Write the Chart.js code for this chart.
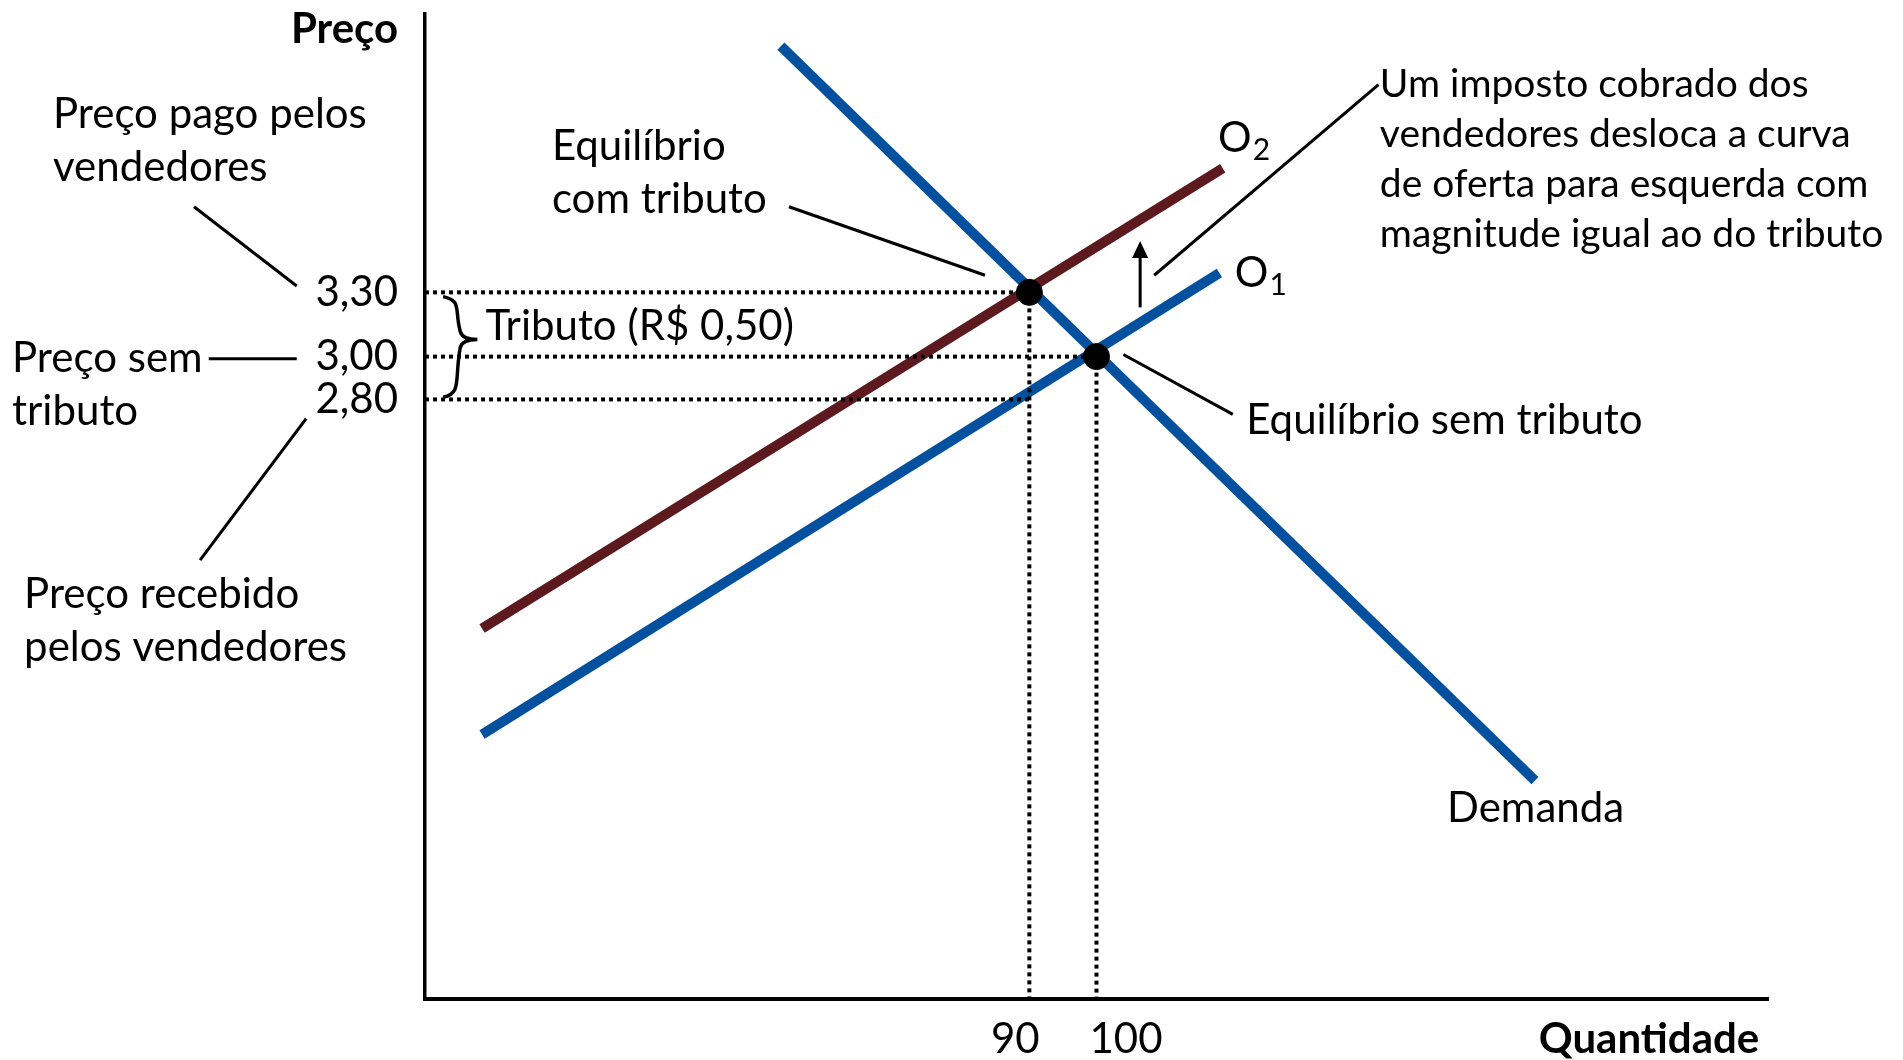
<!DOCTYPE html>
<html>
<head>
<meta charset="utf-8">
<script src="https://cdn.jsdelivr.net/npm/chart.js@4.4.1/dist/chart.umd.min.js"></script>
<style>
    html, body { margin: 0; padding: 0; background: #fff; }
    canvas { display: block; }
</style>
</head>
<body>
<canvas id="taxChart" width="1903" height="1060"></canvas>
<script>
// curvas (quantidade, preço)
const demandQty = [53, 165.3];
const demandPrice = [4.45, 1.02];
const supply1Qty = [8.5, 118.3];
const supply1Price = [1.235, 3.39];
const supply2Qty = [8.5, 118.8];
const supply2Price = [1.73, 3.88];

// equilíbrios: com tributo, sem tributo
const eqQty = [90, 100];
const eqPrice = [3.30, 3.00];
const receivedPrice = 2.80;

// rótulos dos eixos
const priceTicks = [2.80, 3.00, 3.30];
const qtyTicks = [90, 100];

const FONT = 'Lato, "Open Sans", sans-serif';
const BLUE = '#02509e';
const RED = '#5c1a1f';

function pts(xs, ys) {
    return xs.map((x, i) => ({ x: x, y: ys[i] }));
}

function dotted(data) {
    return {
        data: data,
        borderColor: '#000',
        borderWidth: 4,
        borderDash: [4, 4],
        pointRadius: 0,
        showLine: true,
        fill: false
    };
}

// textos e linhas de chamada (em coordenadas do gráfico)
const notes = [
    { lines: ['Preço pago pelos', 'vendedores'], x: -55.4, y: 4.13 },
    { lines: ['Preço sem', 'tributo'], x: -61.5, y: 2.99 },
    { lines: ['Preço recebido', 'pelos vendedores'], x: -59.7, y: 1.89 },
    { lines: ['Equilíbrio', 'com tributo'], x: 18.9, y: 3.98 },
    { lines: ['Tributo (R$ 0,50)'], x: 9.0, y: 3.14 },
    { lines: ['Um imposto cobrado dos', 'vendedores desloca a curva', 'de oferta para esquerda com', 'magnitude igual ao do tributo'], x: 142.2, y: 4.27, size: 39, gap: 50 },
    { lines: ['Equilíbrio sem tributo'], x: 122.3, y: 2.70 },
    { lines: ['Demanda'], x: 152.2, y: 0.89 },
    { lines: ['Preço'], x: -4.0, y: 4.53, align: 'right', bold: true },
    { lines: ['Quantidade'], x: 198.7, y: -0.19, align: 'right', bold: true },
    { lines: [String(qtyTicks[0])], x: 87.9, y: -0.19, align: 'center' },
    { lines: [String(qtyTicks[1])], x: 104.4, y: -0.19, align: 'center' }
];

const leaders = [
    [-34.4, 3.70, -19.1, 3.33],
    [-32.2, 2.99, -19.1, 2.99],
    [-17.7, 2.71, -33.5, 2.05],
    [54.2, 3.70, 83.4, 3.38],
    [142.0, 4.27, 108.6, 3.38],
    [104.0, 3.01, 120.3, 2.73]
];

const supplyLabels = [
    { text: 'O', sub: '2', x: 118.1, y: 4.02 },
    { text: 'O', sub: '1', x: 120.6, y: 3.39 }
];

const annotationPlugin = {
    id: 'annotations',
    afterDatasetsDraw(chart) {
        const ctx = chart.ctx;
        const xs = chart.scales.x;
        const ys = chart.scales.y;
        const px = v => xs.getPixelForValue(v);
        const py = v => ys.getPixelForValue(v);
        ctx.save();
        ctx.fillStyle = '#000';
        ctx.strokeStyle = '#000';
        ctx.textBaseline = 'middle';

        notes.forEach(n => {
            ctx.font = (n.bold ? 'bold ' : '') + (n.size || 42) + 'px ' + FONT;
            ctx.textAlign = n.align || 'left';
            n.lines.forEach((t, i) => ctx.fillText(t, px(n.x), py(n.y) + i * (n.gap || 53)));
        });

        supplyLabels.forEach(s => {
            ctx.textAlign = 'left';
            ctx.font = '42px ' + FONT;
            ctx.fillText(s.text, px(s.x), py(s.y));
            const w = ctx.measureText(s.text).width;
            ctx.font = '30px ' + FONT;
            ctx.fillText(s.sub, px(s.x) + w + 1, py(s.y) + 12);
        });

        ctx.lineWidth = 3;
        leaders.forEach(l => {
            ctx.beginPath();
            ctx.moveTo(px(l[0]), py(l[1]));
            ctx.lineTo(px(l[2]), py(l[3]));
            ctx.stroke();
        });

        // seta do deslocamento da oferta
        const ax = px(106.5), ay0 = py(3.23), ay1 = py(3.54);
        ctx.beginPath();
        ctx.moveTo(ax, ay0);
        ctx.lineTo(ax, ay1 + 10);
        ctx.stroke();
        ctx.beginPath();
        ctx.moveTo(ax, ay1);
        ctx.lineTo(ax - 8, ay1 + 17);
        ctx.lineTo(ax + 8, ay1 + 17);
        ctx.closePath();
        ctx.fill();

        // chave do tributo
        const bx0 = px(2.7), bx1 = px(7.8);
        const top = py(3.28), mid = py(3.08), bot = py(2.81);
        const bm = (bx0 + bx1) / 2;
        ctx.lineWidth = 3.5;
        ctx.beginPath();
        ctx.moveTo(bx0, top);
        ctx.bezierCurveTo(bm + 2, top + 4, bm - 6, mid - 30, bm, mid - 8);
        ctx.quadraticCurveTo(bm + 2, mid, bx1, mid);
        ctx.moveTo(bx1, mid);
        ctx.quadraticCurveTo(bm + 2, mid, bm, mid + 8);
        ctx.bezierCurveTo(bm - 6, mid + 40, bm + 2, bot - 4, bx0, bot);
        ctx.stroke();
        ctx.restore();
    }
};

const ctx = document.getElementById('taxChart').getContext('2d');

new Chart(ctx, {
    type: 'scatter',
    data: {
        datasets: [
            {
                data: pts(eqQty, eqPrice),
                backgroundColor: '#000',
                borderColor: '#000',
                pointRadius: 13,
                showLine: false
            },
            dotted([{ x: 0, y: eqPrice[0] }, { x: eqQty[0], y: eqPrice[0] }]),
            dotted([{ x: 0, y: eqPrice[1] }, { x: eqQty[1], y: eqPrice[1] }]),
            dotted([{ x: 0, y: receivedPrice }, { x: eqQty[0], y: receivedPrice }]),
            dotted([{ x: eqQty[0], y: eqPrice[0] }, { x: eqQty[0], y: 0 }]),
            dotted([{ x: eqQty[1], y: eqPrice[1] }, { x: eqQty[1], y: 0 }]),
            {
                label: 'Demanda',
                data: pts(demandQty, demandPrice),
                borderColor: BLUE,
                borderWidth: 10,
                pointRadius: 0,
                showLine: true
            },
            {
                label: 'O1',
                data: pts(supply1Qty, supply1Price),
                borderColor: BLUE,
                borderWidth: 10,
                pointRadius: 0,
                showLine: true
            },
            {
                label: 'O2',
                data: pts(supply2Qty, supply2Price),
                borderColor: RED,
                borderWidth: 10,
                pointRadius: 0,
                showLine: true
            }
        ]
    },
    options: {
        responsive: false,
        animation: false,
        layout: { padding: { left: 0, right: 135, top: 10, bottom: 0 } },
        plugins: {
            legend: { display: false },
            tooltip: { enabled: false }
        },
        scales: {
            x: {
                type: 'linear',
                min: 0,
                max: 200,
                grid: { display: false },
                border: { color: '#000', width: 4 },
                ticks: { display: false },
                afterFit: scale => {
                    scale.height = 61;
                    scale.paddingLeft = 0;
                    scale.paddingRight = 0;
                }
            },
            y: {
                type: 'linear',
                min: 0,
                max: 4.6,
                grid: { display: false, drawTicks: false, tickLength: 0 },
                border: { color: '#000', width: 3.5 },
                afterBuildTicks: axis => { axis.ticks = priceTicks.map(v => ({ value: v })); },
                ticks: {
                    autoSkip: false,
                    padding: 27,
                    color: '#000',
                    font: { family: FONT, size: 42 },
                    callback: v => v.toFixed(2).replace('.', ',')
                },
                afterFit: scale => {
                    scale.width = 425;
                    scale.paddingTop = 0;
                    scale.paddingBottom = 0;
                }
            }
        }
    },
    plugins: [annotationPlugin]
});
</script>
</body>
</html>
